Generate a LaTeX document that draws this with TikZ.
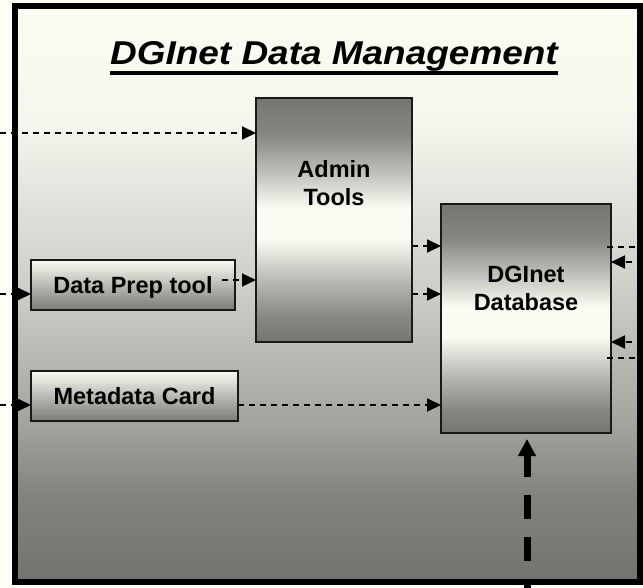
\documentclass[tikz,border=0pt]{standalone}
\usepackage{fontspec}
\setmainfont{Liberation Sans}
\usetikzlibrary{arrows.meta}
\definecolor{bgc}{RGB}{254,254,244}
\definecolor{gtop}{RGB}{252,252,242}
\definecolor{gA}{RGB}{246,246,238}
\definecolor{gB}{RGB}{226,226,220}
\definecolor{gC}{RGB}{205,205,199}
\definecolor{gD}{RGB}{165,165,160}
\definecolor{gE}{RGB}{130,130,126}
\definecolor{gbot}{RGB}{114,114,110}
\definecolor{bdark}{RGB}{118,118,113}
\definecolor{bq1}{RGB}{135,135,130}
\definecolor{bq2}{RGB}{190,190,184}
\definecolor{bq3}{RGB}{185,185,179}
\definecolor{blight}{RGB}{251,251,243}
\definecolor{sbot}{RGB}{122,122,118}
\pgfdeclareverticalshading{framesh}{100bp}{color(0bp)=(gbot); color(25bp)=(gbot); color(32.5bp)=(gE); color(39bp)=(gD); color(50bp)=(gC); color(58bp)=(gB); color(65bp)=(gA); color(75bp)=(gtop); color(100bp)=(gtop)}
\pgfdeclareverticalshading{boxsh}{100bp}{color(0bp)=(bdark); color(25bp)=(bdark); color(30bp)=(bq1); color(37.5bp)=(bq3); color(46bp)=(blight); color(52.5bp)=(blight); color(60bp)=(bq2); color(67.5bp)=(bq1); color(75bp)=(bdark); color(100bp)=(bdark)}
\tikzset{
  frame/.style={draw=black, line width=6pt, shading=framesh, minimum width=624.5pt, minimum height=576pt, inner sep=0pt, outer sep=0pt},
  bigbox/.style={draw=black!90, line width=2pt, shading=boxsh, inner sep=0pt, outer sep=0pt},
  smallbox/.style={draw=black!90, line width=2pt, top color=blight, bottom color=sbot, inner sep=0pt, outer sep=0pt, minimum height=50pt},
  lbl/.style={font=\bfseries\fontsize{23.5}{28.5}\selectfont, align=center, inner sep=0pt},
  arr/.style={line width=1.8pt, dash pattern=on 6pt off 5pt, -{Triangle[length=14pt,width=13pt]}},
  dline/.style={line width=1.8pt, dash pattern=on 6pt off 5pt},
  bigarr/.style={line width=7pt, dash pattern=on 24pt off 18pt, dash phase=15pt, -{Triangle[length=17pt,width=17pt]}},
}
\begin{document}
\begin{tikzpicture}[x=1pt,y=-1pt]
\fill[bgc] (0,0) rectangle (643,588);
\useasboundingbox (0,0) rectangle (643,588);
\node[frame] (frame) at (327.25,294) {};
\node[anchor=base, inner sep=0pt, font=\bfseries\itshape\fontsize{33}{40}\selectfont] (title) at (334,65) {\scalebox{1.12}[1]{DGInet Data Management}};
\draw[line width=4pt] ([yshift=-8pt]title.base west) -- ([yshift=-8pt]title.base east);
\node[bigbox, minimum width=156pt, minimum height=244pt] (admin) at (334,220) {};
\node[lbl, anchor=base] (admintxt) at (334,206) {Admin\\Tools};
\node[bigbox, minimum width=170pt, minimum height=229pt] (db) at (526,318.5) {};
\node[lbl, anchor=base] (dbtxt) at (526,311) {DGInet\\Database};
\node[smallbox, lbl, minimum width=204pt, text height=16.8pt, text depth=0pt] (prep) at (133,285) {Data Prep tool};
\node[smallbox, lbl, minimum width=207pt, text height=16.8pt, text depth=0pt] (meta) at (134.5,396) {Metadata Card};
% left inputs
\coordinate (l1) at (0,133);
\coordinate (l2) at (0,294);
\coordinate (l3) at (0,405);
\draw[arr] (l1) -- (l1 -| admin.west);
\draw[arr] (l2) -- (l2 -| prep.west);
\draw[arr] (l3) -- (l3 -| meta.west);
% prep -> admin
\coordinate (p1) at (222,280);
\draw[arr] (p1) -- (p1 -| admin.west);
% admin -> db
\coordinate (a1) at (0,246);
\coordinate (a2) at (0,294);
\draw[arr] (admin.east |- a1) -- (db.west |- a1);
\draw[arr] (admin.east |- a2) -- (db.west |- a2);
% meta -> db
\draw[arr] (meta.east |- l3) -- (db.west |- l3);
% right side
\coordinate (r1) at (643,262);
\coordinate (r2) at (643,342);
\coordinate (r3) at (643,247);
\coordinate (r4) at (643,358);
\draw[arr] (r1) -- (r1 -| db.east);
\draw[arr] (r2) -- (r2 -| db.east);
\draw[dline] ([xshift=-4pt]r3 -| db.east) -- (r3);
\draw[dline] ([xshift=-4pt]r4 -| db.east) -- (r4);
% bottom
\coordinate (bin) at (527,588);
\draw[bigarr, shorten >=6pt] (bin) -- (db.south -| bin);
\end{tikzpicture}
\end{document}
